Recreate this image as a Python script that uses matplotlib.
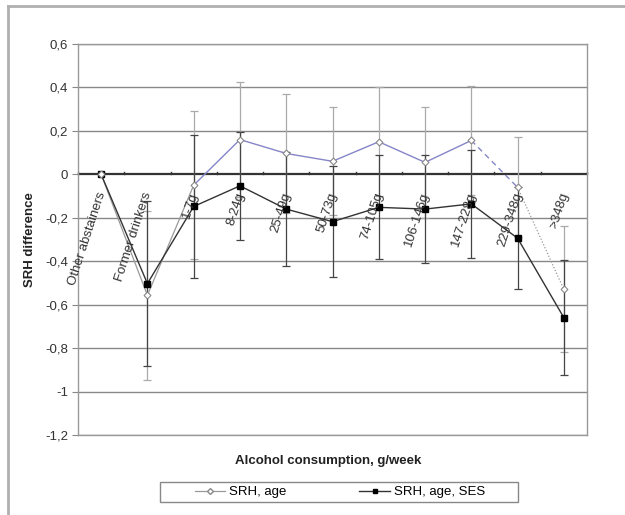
import matplotlib
matplotlib.use("Agg")
import matplotlib.pyplot as plt
from matplotlib.lines import Line2D
from matplotlib.patches import Rectangle
import matplotlib.transforms as mtransforms
import numpy as np

plt.rcParams['font.family'] = ['Liberation Sans', 'DejaVu Sans']

categories = ["Other abstainers", "Former drinkers", "1-7g", "8-24g", "25-49g",
              "50-73g", "74-105g", "106-146g", "147-228g", "229-348g", ">348g"]
srh_age = [0.0, -0.557, -0.05, 0.16, 0.096, 0.06, 0.15, 0.055, 0.156, -0.06, -0.53]
srh_age_err = [0.0, 0.39, 0.34, 0.264, 0.273, 0.248, 0.25, 0.255, 0.25, 0.23, 0.29]
srh_ses = [0.0, -0.503, -0.148, -0.053, -0.16, -0.218, -0.152, -0.16, -0.136, -0.294, -0.66]
srh_ses_err = [0.0, 0.38, 0.33, 0.25, 0.264, 0.255, 0.24, 0.248, 0.25, 0.236, 0.265]
yticks = [0.6, 0.4, 0.2, 0, -0.2, -0.4, -0.6, -0.8, -1, -1.2]
ytick_labels = ["0,6", "0,4", "0,2", "0", "-0,2", "-0,4", "-0,6", "-0,8", "-1", "-1,2"]

W, H = 625, 515
FS = 9.5
fig = plt.figure(figsize=(W / 100, H / 100), dpi=100)
ax = fig.add_axes([78 / W, 1 - 435 / H, (587 - 78) / W, (435 - 44) / H])

x = np.arange(len(categories))
ax.set_xlim(-0.5, len(categories) - 0.5)
ax.set_ylim(-1.2, 0.6)

# grid
for yv in yticks:
    if yv != 0:
        ax.axhline(yv, color="#888888", lw=1.0, zorder=1)
ax.axhline(0, color="#333333", lw=1.6, zorder=2)
for s in ["left", "right", "top", "bottom"]:
    ax.spines[s].set_color("#999999")
    ax.spines[s].set_linewidth(1.0)

# error bars
age_x = x[1:]
ax.errorbar(age_x, np.array(srh_age)[1:], yerr=np.array(srh_age_err)[1:], fmt='none',
            ecolor="#aaaaaa", elinewidth=0.9, capsize=3, capthick=0.9, zorder=3)
ax.errorbar(age_x, np.array(srh_ses)[1:], yerr=np.array(srh_ses_err)[1:], fmt='none',
            ecolor="#444444", elinewidth=0.9, capsize=3, capthick=0.9, zorder=3)

# age line segments
ax.plot(x[0:3], srh_age[0:3], color="#999999", lw=0.9, zorder=4)
ax.plot(x[2:9], srh_age[2:9], color="#8585c8", lw=1.0, zorder=4)
ax.plot(x[8:10], srh_age[8:10], color="#8585c8", lw=1.0, ls=(0, (4, 3)), zorder=4)
ax.plot(x[9:11], srh_age[9:11], color="#999999", lw=0.9, ls=(0, (1, 1.5)), zorder=4)
ax.plot(x, srh_age, ls='none', marker='D', ms=3.5, mfc='white', mec="#888888", mew=0.8, zorder=6)

# SES line
ax.plot(x, srh_ses, color="#333333", lw=1.0, marker='s', ms=4.5, mfc='black', mec='black', zorder=5)

# ticks
ax.set_yticks(yticks)
ax.set_yticklabels(ytick_labels, fontsize=FS, color="#333333")
ax.tick_params(axis='y', length=4, color="#888888", pad=3)
ax.set_xticks([])
for b in np.arange(-0.5, len(categories), 1.0):
    ax.plot([b, b], [0, 0.012], color="#333333", lw=1.0, zorder=2, clip_on=False)

offset = mtransforms.ScaledTranslation(1 / 100, -18 / 100, fig.dpi_scale_trans)
for i, lab in enumerate(categories):
    ax.text(x[i], 0, lab, rotation=72, rotation_mode='anchor', ha='right', va='center',
            fontsize=FS, color="#333333", transform=ax.transData + offset, zorder=7)

fig.text(30 / W, 1 - 240 / H, "SRH difference", rotation=90, ha='center', va='center',
         fontsize=FS, fontweight='bold', color="#222222")
fig.text(328 / W, 1 - 461 / H, "Alcohol consumption, g/week", ha='center', va='center',
         fontsize=FS, fontweight='bold', color="#222222")

# outer border
fig.add_artist(Line2D([8 / W, 1.0], [1 - 6 / H, 1 - 6 / H], transform=fig.transFigure,
                      color="#b0b0b0", lw=2))
fig.add_artist(Line2D([8 / W, 8 / W], [1 - 6 / H, 0], transform=fig.transFigure,
                      color="#b0b0b0", lw=2))

# legend frame
fig.add_artist(Rectangle((160 / W, 1 - 502 / H), (518 - 160) / W, 20 / H,
                         transform=fig.transFigure, fill=False, edgecolor="#888888", lw=1.0))
handles = [
    Line2D([], [], color="#999999", lw=0.9, marker='D', ms=3, mfc='white', mec="#888888"),
    Line2D([], [], color="#333333", lw=1.0, marker='s', ms=3.5, mfc='black', mec='black'),
]
leg = fig.legend(handles, ["SRH, age", "SRH, age, SES"], loc='center',
                 bbox_to_anchor=(340 / W, 1 - 492 / H), ncol=2, fontsize=FS,
                 frameon=False, columnspacing=5.5,
                 handlelength=2.3, handletextpad=0.3, borderpad=0.3, borderaxespad=0)

fig.savefig("out.png", dpi=100)
